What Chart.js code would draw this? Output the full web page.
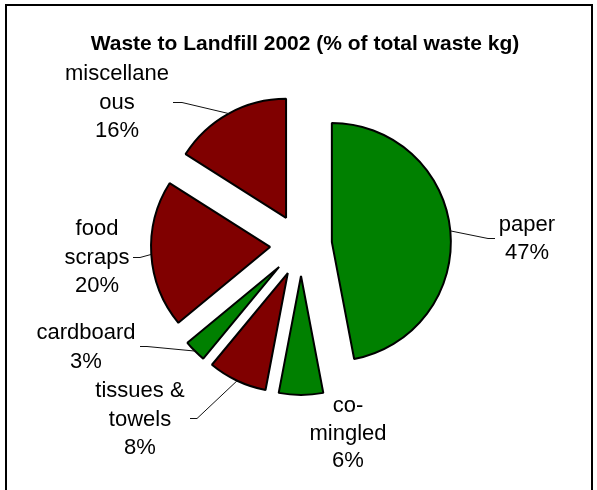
<!DOCTYPE html>
<html><head><meta charset="utf-8">
<script src="https://cdn.jsdelivr.net/npm/chart.js@4"></script>
<style>
html,body{margin:0;padding:0;background:#fff;}
#wrap{position:relative;width:597px;height:490px;overflow:hidden;}
#frame{position:absolute;left:5px;top:4px;width:584px;height:600px;border:2px solid #000;}
canvas{position:absolute;left:0;top:0;}
</style></head><body>
<div id="wrap"><div id="frame"></div><canvas id="c" width="597" height="490"></canvas></div>
<script>
// ---- data ----
const titleText = 'Waste to Landfill 2002 (% of total waste kg)';
const categories = ['paper', 'co-mingled', 'tissues & towels', 'cardboard', 'food scraps', 'miscellaneous'];
const values = [47, 6, 8, 3, 20, 16];
// wrapped category names as shown in the chart
const labelLines = [['paper'], ['co-', 'mingled'], ['tissues &', 'towels'], ['cardboard'], ['food', 'scraps'], ['miscellane', 'ous']];

// ---- styles / layout ----
const GREEN = '#008000', RED = '#800000';
const sliceColors = [GREEN, GREEN, RED, GREEN, RED, RED];
const labelLayout = [
  {x: 527, y: 231, lh: 28, lead: [495, 238, 488]},
  {x: 348, y: 412, lh: 27.5, lead: null},
  {x: 140, y: 397, lh: 28.5, lead: [190, 418, 197]},
  {x: 86,  y: 339, lh: 29, lead: [140, 346, 147]},
  {x: 97,  y: 235, lh: 28.5, lead: [133, 257, 140]},
  {x: 117, y: 80,  lh: 28.5, lead: [173, 102, 182]}
];

const explodePlugin = {
  id: 'explode',
  afterDatasetUpdate(chart, args) {
    const d = chart.options.plugins.explode.distance;
    chart.getDatasetMeta(args.index).data.forEach(arc => {
      const mid = (arc.startAngle + arc.endAngle) / 2;
      arc.x += Math.cos(mid) * d;
      arc.y += Math.sin(mid) * d;
    });
  }
};

const textPlugin = {
  id: 'pieText',
  afterDraw(chart) {
    const ctx = chart.ctx;
    const meta = chart.getDatasetMeta(0);
    ctx.save();
    ctx.fillStyle = '#000';
    ctx.textAlign = 'center';
    ctx.textBaseline = 'alphabetic';
    ctx.font = 'bold 21px "Liberation Sans", Arial, sans-serif';
    ctx.fillText(titleText, 305, 49.5);
    ctx.font = '22px "Liberation Sans", Arial, sans-serif';
    ctx.strokeStyle = '#111';
    ctx.lineWidth = 1;
    meta.data.forEach((arc, i) => {
      const L = labelLayout[i];
      const lines = labelLines[i].concat([values[i] + '%']);
      lines.forEach((t, k) => ctx.fillText(t, L.x, L.y + k * L.lh));
      if (L.lead) {
        const mid = (arc.startAngle + arc.endAngle) / 2;
        const ex = arc.x + Math.cos(mid) * arc.outerRadius;
        const ey = arc.y + Math.sin(mid) * arc.outerRadius;
        ctx.beginPath();
        ctx.moveTo(L.lead[0], L.lead[1] + 0.5);
        ctx.lineTo(L.lead[2], L.lead[1] + 0.5);
        ctx.lineTo(ex, ey);
        ctx.stroke();
      }
    });
    ctx.restore();
  }
};

new Chart(document.getElementById('c'), {
  type: 'pie',
  data: {
    labels: categories,
    datasets: [{
      data: values,
      backgroundColor: sliceColors,
      borderColor: '#000',
      borderWidth: 2
    }]
  },
  options: {
    responsive: false,
    animation: false,
    events: [],
    devicePixelRatio: 1,
    radius: 119,
    layout: {padding: {left: 151, right: 146, top: 95, bottom: 95}},
    plugins: {
      legend: {display: false},
      tooltip: {enabled: false},
      title: {display: false},
      explode: {distance: 31}
    }
  },
  plugins: [explodePlugin, textPlugin]
});
</script>
</body></html>
